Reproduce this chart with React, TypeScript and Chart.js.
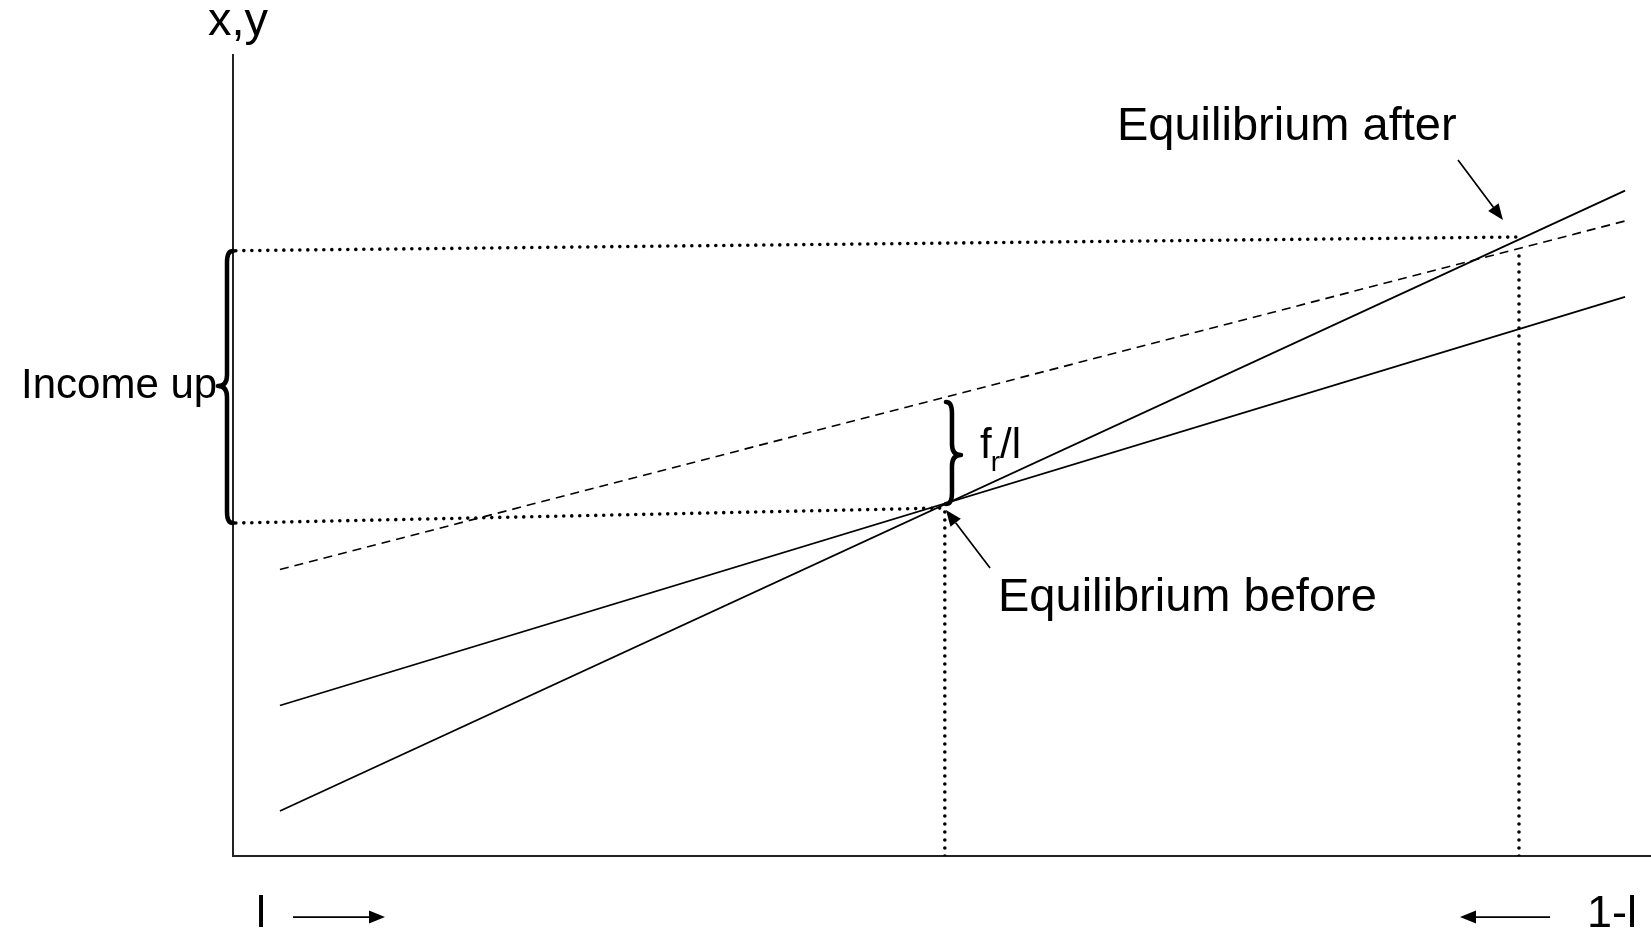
import React, { useEffect, useRef } from "react";
import { Chart, registerables } from "chart.js";

Chart.register(...registerables);

// ---- data (x: share l, 0..100 ; y: x,y values 0..100) ----
const AXIS_X = [0, 100];
const AXIS_Y = [0, 100];

const steepLine = [
  { x: 3.31, y: 5.62 },
  { x: 98.17, y: 83.07 },
];
const flatLine = [
  { x: 3.31, y: 18.79 },
  { x: 98.17, y: 69.79 },
];
const shiftedLine = [
  { x: 3.31, y: 35.76 },
  { x: 98.17, y: 79.28 },
];
const incomeAfterGuide = [
  { x: 0.2, y: 75.57 },
  { x: 90.69, y: 77.28 },
];
const incomeBeforeGuide = [
  { x: 0.2, y: 41.57 },
  { x: 50.21, y: 43.45 },
];
const eqBeforeDrop = [
  { x: 50.2, y: 0 },
  { x: 50.2, y: 43.0 },
];
const eqAfterDrop = [
  { x: 90.69, y: 0 },
  { x: 90.69, y: 75.9 },
];

// annotations (data coordinates)
const labels = [
  { text: "x,y", x: -1.76, y: 102.5, size: 47, align: "left" },
  { text: "Equilibrium after", x: 62.34, y: 89.39, size: 47, align: "left" },
  { text: "Equilibrium before", x: 53.95, y: 30.59, size: 47, align: "left" },
  { text: "Income up", x: -14.95, y: 57.18, size: 42, align: "left" },
  { text: "l", x: 1.62, y: -8.86, size: 45, align: "left" },
  { text: "1-l", x: 95.49, y: -8.86, size: 45, align: "left" },
];
const fracLabel = { x: 52.68, y: 49.69 };

const arrows = [
  { from: { x: 86.39, y: 86.89 }, to: { x: 89.56, y: 79.4 } },
  { from: { x: 53.39, y: 35.96 }, to: { x: 50.28, y: 43.2 } },
  { from: { x: 4.23, y: -7.62 }, to: { x: 10.72, y: -7.62 } },
  { from: { x: 92.88, y: -7.62 }, to: { x: 86.53, y: -7.62 } },
];

const braces = [
  { x: 0, yTop: 75.53, yBot: 41.57, yTip: 58.68, dir: -1 },
  { x: 50.28, yTop: 56.68, yBot: 43.95, yTip: 50.06, dir: 1 },
];

const FONT = '"Liberation Sans", Arial, Helvetica, sans-serif';

function drawArrow(ctx: CanvasRenderingContext2D, x1: number, y1: number, x2: number, y2: number) {
  const ang = Math.atan2(y2 - y1, x2 - x1);
  const headLen = 16;
  const headW = 6.5;
  const bx = x2 - headLen * Math.cos(ang);
  const by = y2 - headLen * Math.sin(ang);
  ctx.save();
  ctx.strokeStyle = "#000";
  ctx.fillStyle = "#000";
  ctx.lineWidth = 1.7;
  ctx.beginPath();
  ctx.moveTo(x1, y1);
  ctx.lineTo(bx, by);
  ctx.stroke();
  ctx.beginPath();
  ctx.moveTo(x2, y2);
  ctx.lineTo(bx + headW * Math.sin(ang), by - headW * Math.cos(ang));
  ctx.lineTo(bx - headW * Math.sin(ang), by + headW * Math.cos(ang));
  ctx.closePath();
  ctx.fill();
  ctx.restore();
}

function drawBrace(
  ctx: CanvasRenderingContext2D,
  x: number,
  yTop: number,
  yBot: number,
  yTip: number,
  dir: number
) {
  const sx = x + dir * 6;
  const tx = x + dir * 15;
  const r = 11;
  ctx.save();
  ctx.strokeStyle = "#000";
  ctx.lineWidth = 4.5;
  ctx.lineCap = "round";
  ctx.lineJoin = "round";
  ctx.beginPath();
  ctx.moveTo(x, yTop);
  ctx.quadraticCurveTo(sx, yTop, sx, yTop + r);
  ctx.lineTo(sx, yTip - r);
  ctx.quadraticCurveTo(sx, yTip, tx, yTip);
  ctx.quadraticCurveTo(sx, yTip, sx, yTip + r);
  ctx.lineTo(sx, yBot - r);
  ctx.quadraticCurveTo(sx, yBot, x, yBot);
  ctx.stroke();
  ctx.restore();
}

const annotationPlugin = {
  id: "diagramAnnotations",
  afterDatasetsDraw(chart: any) {
    const ctx: CanvasRenderingContext2D = chart.ctx;
    const xs = chart.scales.x;
    const ys = chart.scales.y;
    const px = (v: number) => xs.getPixelForValue(v);
    const py = (v: number) => ys.getPixelForValue(v);

    ctx.save();
    ctx.fillStyle = "#000";
    ctx.textBaseline = "alphabetic";
    for (const l of labels) {
      ctx.font = `${l.size}px ${FONT}`;
      ctx.textAlign = l.align as CanvasTextAlign;
      ctx.fillText(l.text, px(l.x), py(l.y));
    }
    // f_r / l
    let fx = px(fracLabel.x);
    const fy = py(fracLabel.y);
    ctx.textAlign = "left";
    ctx.font = `42px ${FONT}`;
    ctx.fillText("f", fx, fy);
    fx += ctx.measureText("f").width - 1;
    ctx.font = `28px ${FONT}`;
    ctx.fillText("r", fx, fy + 13);
    fx += ctx.measureText("r").width;
    ctx.font = `42px ${FONT}`;
    ctx.fillText("/l", fx, fy);
    ctx.restore();

    for (const a of arrows) {
      drawArrow(ctx, px(a.from.x), py(a.from.y), px(a.to.x), py(a.to.y));
    }
    for (const b of braces) {
      drawBrace(ctx, px(b.x), py(b.yTop), py(b.yBot), py(b.yTip), b.dir);
    }
  },
};

const solid = (data: any[]) => ({
  data,
  showLine: true,
  borderColor: "#000",
  borderWidth: 1.8,
  pointRadius: 0,
  fill: false,
});
const dotted = (data: any[]) => ({
  data,
  showLine: true,
  borderColor: "#000",
  borderWidth: 3.6,
  borderDash: [0, 8],
  borderCapStyle: "round",
  pointRadius: 0,
  fill: false,
});

export default function App() {
  const ref = useRef<HTMLCanvasElement>(null);
  useEffect(() => {
    if (!ref.current) return;
    const chart = new Chart(ref.current, {
      type: "scatter",
      data: {
        datasets: [
          solid(steepLine),
          solid(flatLine),
          {
            data: shiftedLine,
            showLine: true,
            borderColor: "#000",
            borderWidth: 1.6,
            borderDash: [9, 6],
            pointRadius: 0,
            fill: false,
          },
          dotted(incomeAfterGuide),
          dotted(incomeBeforeGuide),
          dotted(eqBeforeDrop),
          dotted(eqAfterDrop),
        ] as any,
      },
      options: {
        animation: false,
        responsive: false,
        devicePixelRatio: 1,
        layout: { padding: { left: 233, top: 55, right: 0, bottom: 76 } },
        plugins: {
          legend: { display: false },
          tooltip: { enabled: false },
          title: { display: false },
        },
        events: [],
        scales: {
          x: {
            type: "linear",
            min: AXIS_X[0],
            max: AXIS_X[1],
            grid: { display: false, drawTicks: false },
            ticks: { display: false },
            border: { display: true, color: "#222", width: 2 },
          },
          y: {
            type: "linear",
            min: AXIS_Y[0],
            max: AXIS_Y[1],
            grid: { display: false, drawTicks: false },
            ticks: { display: false },
            border: { display: true, color: "#222", width: 2 },
          },
        },
      },
      plugins: [annotationPlugin],
    });
    return () => chart.destroy();
  }, []);
  return (
    <div style={{ position: "absolute", left: 0, top: 0, width: 1651, height: 932, background: "#fff" }}>
      <canvas ref={ref} width={1651} height={932} style={{ display: "block" }} />
    </div>
  );
}
